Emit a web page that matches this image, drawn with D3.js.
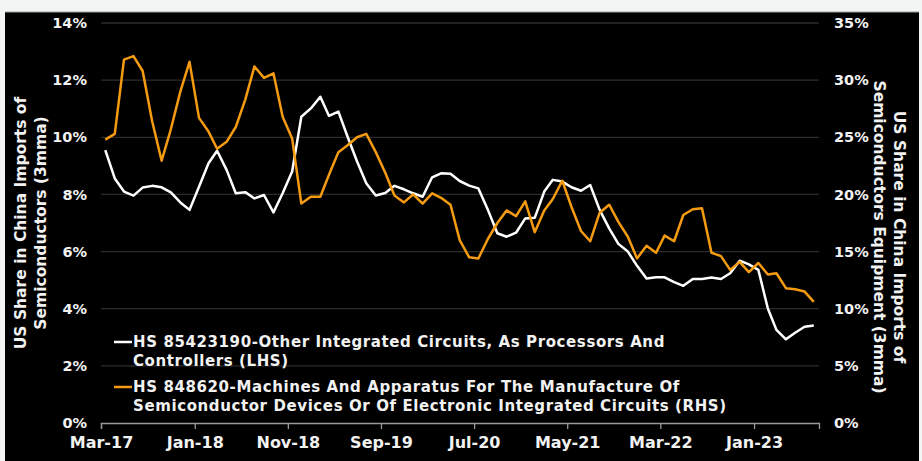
<!DOCTYPE html>
<html>
<head>
<meta charset="utf-8">
<script src="https://cdn.jsdelivr.net/npm/d3@7"></script>
<style>
  html, body { margin: 0; padding: 0; background: #f3f5f5; }
  svg { display: block; }
  text { font-family: "DejaVu Sans", Verdana, sans-serif; font-weight: bold; fill: #f2f2f2; }
</style>
</head>
<body>
<svg id="chart" width="922" height="461"></svg>
<script>
// ---- data ----
const startMonth = "2017-03";
const endMonth = "2023-07";
const seriesNames = [
  ["HS 85423190-Other Integrated Circuits, As Processors And", "Controllers (LHS)"],
  ["HS 848620-Machines And Apparatus For The Manufacture Of", "Semiconductor Devices Or Of Electronic Integrated Circuits (RHS)"]
];
const icShare = [
  9.55, 8.56, 8.10, 7.96, 8.24, 8.30, 8.25, 8.07, 7.72, 7.46,
  8.27, 9.09, 9.53, 8.86, 8.04, 8.08, 7.86, 7.98, 7.37, 8.04,
  8.80, 10.72, 11.01, 11.42, 10.75, 10.90, 10.02, 9.15, 8.39, 7.96,
  8.05, 8.30, 8.18, 8.04, 7.92, 8.60, 8.74, 8.72, 8.47, 8.31,
  8.21, 7.46, 6.64, 6.52, 6.66, 7.16, 7.18, 8.10, 8.51, 8.45,
  8.25, 8.13, 8.33, 7.46, 6.81, 6.27, 6.00, 5.50, 5.06, 5.10,
  5.10, 4.93, 4.80, 5.04, 5.04, 5.09, 5.04, 5.24, 5.68, 5.55,
  5.36, 4.01, 3.26, 2.93, 3.16, 3.37, 3.41
];
const equipShare = [
  24.8, 25.3, 31.8, 32.1, 30.8, 26.4, 22.95, 25.7, 29.0, 31.6,
  26.7, 25.5, 24.0, 24.6, 25.9, 28.3, 31.2, 30.2, 30.6, 26.8,
  24.9, 19.2, 19.8, 19.8, 21.7, 23.7, 24.3, 25.0, 25.3, 23.7,
  21.9, 19.9, 19.3, 20.0, 19.2, 20.1, 19.7, 19.1, 16.0, 14.5,
  14.4, 16.1, 17.5, 18.6, 18.1, 19.4, 16.7, 18.6, 19.6, 21.2,
  18.9, 16.8, 15.9, 18.4, 19.1, 17.6, 16.3, 14.4, 15.5, 14.9,
  16.4, 15.9, 18.2, 18.7, 18.8, 14.9, 14.6, 13.4, 14.1, 13.2,
  14.0, 13.0, 13.1, 11.8, 11.7, 11.5, 10.6
];
const leftTicks = [0, 2, 4, 6, 8, 10, 12, 14];
const rightTicks = [0, 5, 10, 15, 20, 25, 30, 35];
const xTickLabels = ["Mar-17", "Jan-18", "Nov-18", "Sep-19", "Jul-20", "May-21", "Mar-22", "Jan-23"];
const leftTitle = ["US Share in China Imports of", "Semiconductors (3mma)"];
const rightTitle = ["US Share in China Imports of", "Semiconductors Equipment (3mma)"];
const colors = ["#ffffff", "#f49b12"];

// ---- layout ----
const svg = d3.select("#chart");
const W = 922, H = 461;
const plot = { left: 101, right: 819, top: 23, bottom: 423 };
const FONT = "DejaVu Sans, Verdana, sans-serif";

svg.append("rect").attr("x", 5).attr("y", 12).attr("width", 914).attr("height", H - 12).attr("fill", "#000");
svg.append("line").attr("x1", 5).attr("x2", 919).attr("y1", 12).attr("y2", 12).attr("stroke", "#9aa0a0").attr("stroke-width", 1);

const parseM = d3.timeParse("%Y-%m");
const months = d3.timeMonth.range(parseM(startMonth), d3.timeMonth.offset(parseM(endMonth), 1));
const midMonth = d => new Date(d.getFullYear(), d.getMonth(), 15);

const x = d3.scaleTime()
  .domain([parseM(startMonth), d3.timeMonth.offset(parseM(endMonth), 1)])
  .range([plot.left, plot.right]);
const yL = d3.scaleLinear().domain([0, 14]).range([plot.bottom, plot.top]);
const yR = d3.scaleLinear().domain([0, 35]).range([plot.bottom, plot.top]);

// gridlines
svg.append("g").selectAll("line").data(leftTicks.filter(t => t > 0)).join("line")
  .attr("x1", plot.left).attr("x2", plot.right)
  .attr("y1", d => yL(d)).attr("y2", d => yL(d))
  .attr("stroke", "#2c2c2c").attr("stroke-width", 1.3);

// x axis
const tickDates = d3.timeMonth.range(parseM(startMonth), parseM(endMonth), 10);
const xAxis = d3.axisBottom(x).tickValues(tickDates)
  .tickFormat((d, i) => xTickLabels[i]).tickSize(6).tickPadding(8);
const gx = svg.append("g").attr("transform", `translate(0,${plot.bottom})`).call(xAxis);
gx.select(".domain").attr("stroke", "#9a9a9a").attr("stroke-width", 1.3);
gx.selectAll(".tick line").attr("stroke", "#9a9a9a").attr("stroke-width", 1.3);
gx.selectAll(".tick text").attr("font-size", 16).attr("fill", "#f2f2f2")
  .attr("font-family", FONT).attr("font-weight", "bold");

// left axis
const gl = svg.append("g").attr("transform", `translate(${plot.left},0)`)
  .call(d3.axisLeft(yL).tickValues(leftTicks).tickFormat(d => d + "%").tickSize(0).tickPadding(14));
gl.select(".domain").remove();
gl.selectAll(".tick text").attr("font-size", 14.5).attr("fill", "#f2f2f2")
  .attr("font-family", FONT).attr("font-weight", "bold");

// right axis
const gr = svg.append("g").attr("transform", `translate(${plot.right},0)`)
  .call(d3.axisRight(yR).tickValues(rightTicks).tickFormat(d => d + "%").tickSize(0).tickPadding(15));
gr.select(".domain").remove();
gr.selectAll(".tick text").attr("font-size", 14.5).attr("fill", "#f2f2f2")
  .attr("font-family", FONT).attr("font-weight", "bold");

// axis titles
const lt = svg.append("text").attr("transform", "translate(0,223) rotate(-90)")
  .attr("text-anchor", "middle").attr("font-size", 15.5);
leftTitle.forEach((t, i) => lt.append("tspan").attr("x", 0).attr("y", 26 + i * 20).text(t));

const rt = svg.append("text").attr("transform", "translate(922,237) rotate(90)")
  .attr("text-anchor", "middle").attr("font-size", 15.5);
rightTitle.forEach((t, i) => rt.append("tspan").attr("x", 0).attr("y", 28 + i * 20).text(t));

// lines
const lineL = d3.line().x((d, i) => x(midMonth(months[i]))).y(d => yL(d));
const lineR = d3.line().x((d, i) => x(midMonth(months[i]))).y(d => yR(d));

svg.append("path").datum(icShare).attr("d", lineL)
  .attr("fill", "none").attr("stroke", colors[0]).attr("stroke-width", 2.5).attr("stroke-linejoin", "round");
svg.append("path").datum(equipShare).attr("d", lineR)
  .attr("fill", "none").attr("stroke", colors[1]).attr("stroke-width", 2.5).attr("stroke-linejoin", "round");

// legend
const legendY = [347, 392];
seriesNames.forEach((lines, k) => {
  const y0 = legendY[k];
  svg.append("line").attr("x1", 114).attr("x2", 132)
    .attr("y1", y0 - 5).attr("y2", y0 - 5)
    .attr("stroke", colors[k]).attr("stroke-width", 2.5);
  lines.forEach((t, j) => {
    svg.append("text").attr("x", 133).attr("y", y0 + j * 19)
      .attr("font-size", 15).attr("letter-spacing", 0.6).text(t);
  });
});
</script>
</body>
</html>
